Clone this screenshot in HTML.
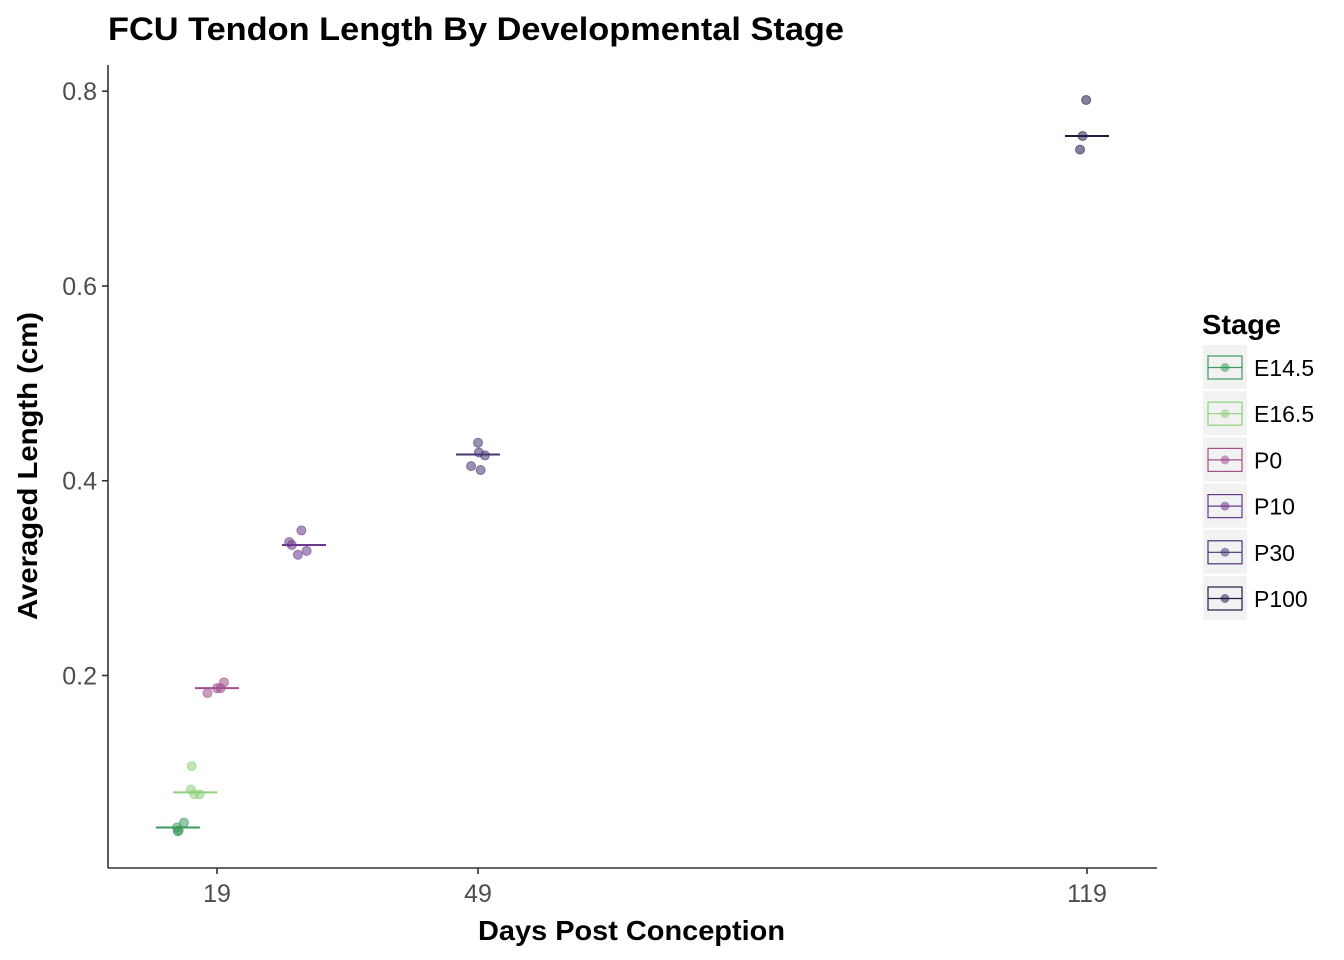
<!DOCTYPE html>
<html><head><meta charset="utf-8"><style>
body{margin:0;background:#fff;}
svg{display:block;font-family:"Liberation Sans",Arial,sans-serif;}
</style></head><body>
<svg id="chart" width="1344" height="960">
<text x="108" y="40" font-size="32" font-weight="bold" fill="#000" textLength="736" lengthAdjust="spacingAndGlyphs">FCU Tendon Length By Developmental Stage</text>
<g id="plot"></g>
<line x1="108" y1="65" x2="108" y2="868" stroke="#333" stroke-width="1.6"/>
<line x1="108" y1="868" x2="1157" y2="868" stroke="#333" stroke-width="1.6"/>
<g id="yticks"></g>
<g id="xticks"></g>
<text x="478" y="940" font-size="28" font-weight="bold" textLength="307" lengthAdjust="spacingAndGlyphs">Days Post Conception</text>
<text transform="translate(37,620) rotate(-90)" font-size="28" font-weight="bold" textLength="308" lengthAdjust="spacingAndGlyphs">Averaged Length (cm)</text>
<text x="1202" y="334" font-size="28" font-weight="bold" textLength="79" lengthAdjust="spacingAndGlyphs">Stage</text>
<g id="legend"></g>
</svg>
<script>
const stages = ["E14.5","E16.5","P0","P10","P30","P100"];
const colors = ["#3d9a5e","#8fd07c","#a24f8c","#6b3a8f","#4a3574","#1e1e48"];
const stageDays = [14.5,16.5,19,29,49,119];
const medians = [0.044,0.080,0.187,0.334,0.427,0.754];
const pointDays = [[14.4,14.5,15.2,14.6],[16.1,16.0,16.4,17.0],[17.9,19.0,19.4,19.8],[27.3,27.6,28.7,28.3,29.3],[49.0,48.2,49.1,49.8,49.3],[118.9,118.5,118.2]];
const pointVals = [[0.044,0.040,0.049,0.041],[0.107,0.083,0.078,0.078],[0.182,0.187,0.187,0.193],[0.337,0.334,0.349,0.324,0.328],[0.439,0.415,0.429,0.426,0.411],[0.791,0.754,0.740]];
const yTicks = [0.2,0.4,0.6,0.8];
const xTicks = [19,49,119];

const NS="http://www.w3.org/2000/svg";
const xs = d => 217 + (d-19)*8.70;
const ys = v => 870.3 - v*973.9;
function mk(tag, attrs, parent){const e=document.createElementNS(NS,tag);for(const k in attrs)e.setAttribute(k,attrs[k]);parent.appendChild(e);return e;}
const plot=document.getElementById('plot'), yt=document.getElementById('yticks'), xt=document.getElementById('xticks'), lg=document.getElementById('legend');

yTicks.forEach(t=>{
  const l=mk('line',{x1:102,x2:108,y1:ys(t),y2:ys(t),stroke:'#333','stroke-width':1.6},yt);
  
  
  const tx=mk('text',{x:97,y:ys(t)+9,'font-size':25,'text-anchor':'end',fill:'#4d4d4d'},yt);
  tx.textContent=t.toFixed(1);
  
  
});
xTicks.forEach(t=>{
  const l=mk('line',{x1:xs(t),x2:xs(t),y1:868,y2:874,stroke:'#333','stroke-width':1.6},xt);
  
  
  const tx=mk('text',{x:xs(t),y:902,'font-size':25,'text-anchor':'middle',fill:'#4d4d4d'},xt);
  tx.textContent=t;
  
  
});
stages.forEach((s,i)=>{
  pointDays[i].forEach((d,j)=>{
    const c=mk('circle',{cx:xs(d),cy:ys(pointVals[i][j]),r:4.5,fill:colors[i],'fill-opacity':0.55,stroke:colors[i],'stroke-opacity':0.6,'stroke-width':1},plot);
    
    
  });
  const m=mk('line',{x1:xs(stageDays[i])-22,x2:xs(stageDays[i])+22,y1:ys(medians[i]),y2:ys(medians[i]),stroke:colors[i],'stroke-width':2},plot);
  
  
  const y0=345+i*46.2;
  const g=mk('g',{},lg);
  
  
  mk('rect',{x:1203,y:y0,width:44,height:44,fill:'#f2f2f2'},g);
  mk('rect',{x:1208,y:y0+11,width:34,height:23,fill:'none',stroke:colors[i],'stroke-width':1.2},g);
  mk('line',{x1:1208,x2:1242,y1:y0+22.5,y2:y0+22.5,stroke:colors[i],'stroke-width':1.2},g);
  mk('circle',{cx:1225,cy:y0+22.5,r:4.5,fill:colors[i],'fill-opacity':0.55},g);
  const t=mk('text',{x:1254,y:y0+31,'font-size':23,fill:'#000'},g);
  t.textContent=s;
});
</script>
</body></html>
